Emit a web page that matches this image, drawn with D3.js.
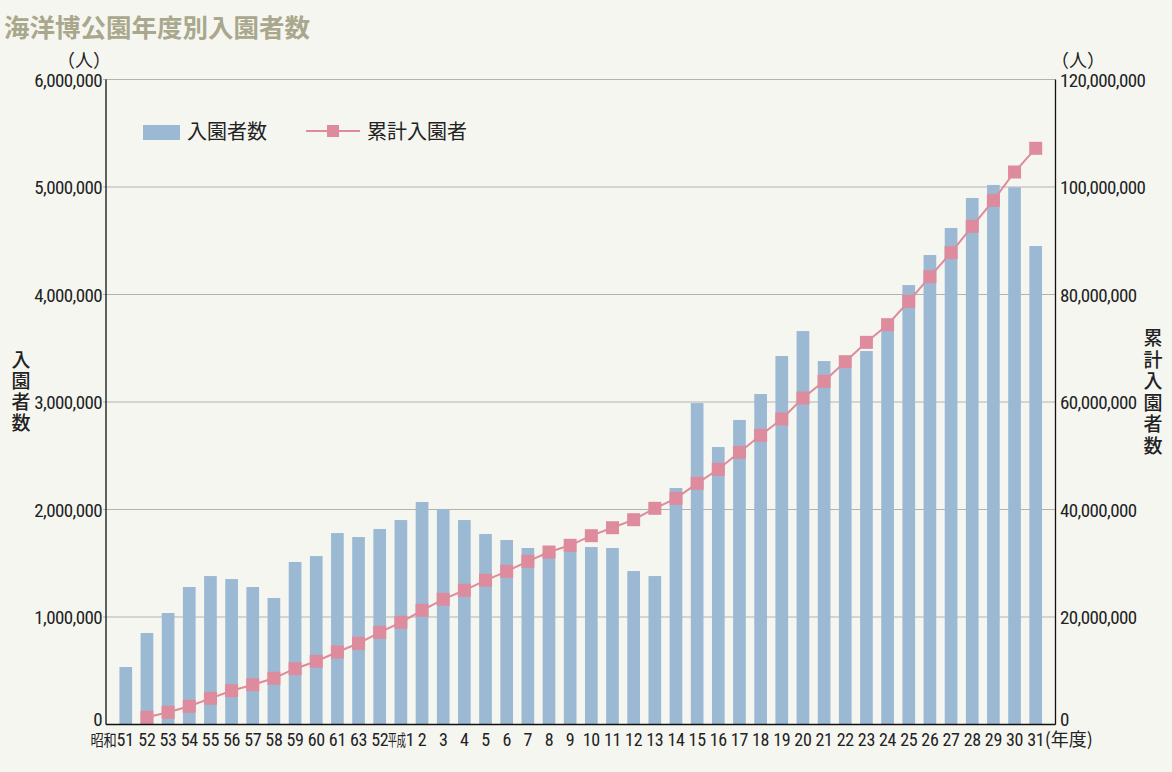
<!DOCTYPE html>
<html><head><meta charset="utf-8">
<script src="https://cdn.jsdelivr.net/npm/d3@7"></script>
<style>
html,body{margin:0;padding:0;background:#f6f6f1;}
svg{display:block;}
</style></head>
<body>
<svg id="chart" width="1172" height="772"></svg>
<script>
const categories = ["昭和51","52","53","54","55","56","57","58","59","60","61","63","52","平成1",
  "2","3","4","5","6","7","8","9","10","11","12","13","14","15","16","17","18","19","20",
  "21","22","23","24","25","26","27","28","29","30","31"];
const visitors = [535000,851000,1037000,1279000,1381000,1353000,1279000,1177000,1512000,1567000,
  1781000,1744000,1819000,1902000,2070000,2005000,1902000,1772000,1716000,1642000,1600000,1620000,
  1651000,1642000,1428000,1381000,2200000,2990000,2581000,2833000,3074000,3428000,3660000,3381000,
  3320000,3474000,3700000,4088000,4367000,4619000,4898000,5019000,4997000,4451000];
const cumulative = [null,1340000,2270000,3390000,4870000,6290000,7400000,8600000,10380000,11760000,
  13490000,15110000,17150000,19010000,21250000,23290000,24970000,26830000,28500000,30360000,32090000,
  33340000,35130000,36610000,38100000,40220000,42080000,44870000,47480000,50640000,53800000,56840000,
  60740000,63850000,67500000,71100000,74380000,78730000,83310000,87780000,92690000,97520000,
  102790000,107200000];
const leftTicks = [0,1000000,2000000,3000000,4000000,5000000,6000000];
const rightTicks = [0,20000000,40000000,60000000,80000000,100000000,120000000];
const title = "海洋博公園年度別入園者数";
const seriesNames = ["入園者数","累計入園者"];
const leftTitle = "入園者数";
const rightTitle = "累計入園者数";
const unitLabel = "（人）";
const xUnit = "(年度)";

const barColor = "#9cb9d4", lineColor = "#dd8b9d", textColor = "#222";
const numFont = "'Liberation Sans Narrow','Roboto Condensed','DejaVu Sans Condensed',sans-serif";
const jpFont = "'Noto Sans CJK JP',sans-serif";

const svg = d3.select("#chart");
const L = 106, R = 1055.5, T = 79.5, B = 724.5;

const x = d3.scaleBand().domain(d3.range(categories.length)).range([L, R])
  .paddingInner(0.4).paddingOuter(0.635);
const yL = d3.scaleLinear().domain([0, 6000000]).range([B, T]);
const yR = d3.scaleLinear().domain([0, 120000000]).range([B, T]);
const fmt = d3.format(",");

// title
svg.append("text").attr("x", 4).attr("y", 37).text(title)
  .attr("font-family", jpFont).attr("font-weight", "bold").attr("font-size", 25.5)
  .attr("fill", "#a9a78c");

// gridlines
svg.append("g").selectAll("line").data(leftTicks.filter(d => d > 0)).join("line")
  .attr("x1", L - 3).attr("x2", R).attr("y1", d => yL(d)).attr("y2", d => yL(d))
  .attr("stroke", "#b3b3ad").attr("stroke-width", 1.2);

// bars
svg.append("g").selectAll("rect").data(visitors).join("rect")
  .attr("x", (d, i) => x(i)).attr("width", x.bandwidth())
  .attr("y", d => yL(d)).attr("height", d => B - yL(d))
  .attr("fill", barColor);

// line
const pts = cumulative.map((v, i) => [i, v]).filter(p => p[1] != null);
svg.append("path").datum(pts)
  .attr("d", d3.line().x(p => x(p[0]) + x.bandwidth() / 2).y(p => yR(p[1])))
  .attr("fill", "none").attr("stroke", lineColor).attr("stroke-width", 2);
const sq = 13;
svg.append("g").selectAll("rect").data(pts).join("rect")
  .attr("x", p => x(p[0]) + x.bandwidth() / 2 - sq / 2).attr("y", p => yR(p[1]) - sq / 2)
  .attr("width", sq).attr("height", sq).attr("fill", lineColor);

// axes lines
svg.append("line").attr("x1", L).attr("x2", L).attr("y1", T).attr("y2", B).attr("stroke", "#111").attr("stroke-width", 1.3);
svg.append("line").attr("x1", R).attr("x2", R).attr("y1", T).attr("y2", B).attr("stroke", "#111").attr("stroke-width", 1.3);
svg.append("line").attr("x1", L).attr("x2", R).attr("y1", B).attr("y2", B).attr("stroke", "#111").attr("stroke-width", 1.3);

// tick labels
const tickY = (scale, d) => d === 0 ? scale(d) + 1 : scale(d) + 7;
svg.append("g").selectAll("text").data(leftTicks).join("text")
  .attr("x", 102).attr("y", d => tickY(yL, d)).attr("text-anchor", "end")
  .text(d => fmt(d)).attr("font-family", numFont).attr("font-size", 19).attr("fill", textColor)
  .attr("letter-spacing", -0.6);
svg.append("g").selectAll("text").data(rightTicks).join("text")
  .attr("x", 1060).attr("y", d => tickY(yR, d)).attr("text-anchor", "start")
  .text(d => fmt(d)).attr("font-family", numFont).attr("font-size", 19).attr("fill", textColor)
  .attr("letter-spacing", -0.6);

// units (full-width parens: ink sits inside the em boxes)
svg.append("text").attr("x", 57).attr("y", 67).attr("text-anchor", "start").text(unitLabel)
  .attr("font-family", jpFont).attr("font-size", 18).attr("fill", textColor);
svg.append("text").attr("x", 1051).attr("y", 67).attr("text-anchor", "start").text(unitLabel)
  .attr("font-family", jpFont).attr("font-size", 18).attr("fill", textColor);

// x labels
const xl = svg.append("g").attr("font-family", numFont).attr("font-size", 18).attr("fill", textColor)
  .attr("letter-spacing", -0.3);
categories.forEach((c, i) => {
  const cx = x(i) + x.bandwidth() / 2;
  const m = c.match(/^(\D+)(\d+)$/);
  if (m) {
    const t = xl.append("text").attr("y", 746).attr("text-anchor", "end");
    const pre = t.append("tspan").attr("font-family", jpFont).attr("font-size", 16).text(m[1]);
    t.append("tspan").text(m[2]);
    if (m[1] === "平成") {
      t.attr("x", cx + 13.5);
      pre.attr("textLength", 18).attr("lengthAdjust", "spacingAndGlyphs");
    } else {
      t.attr("x", cx + 8);
      pre.attr("textLength", 26).attr("lengthAdjust", "spacingAndGlyphs");
    }
  } else {
    xl.append("text").attr("x", cx).attr("y", 746).attr("text-anchor", "middle").text(c);
  }
});
xl.append("text").attr("x", x(categories.length - 1) + x.bandwidth() / 2 + 9).attr("y", 746)
  .attr("text-anchor", "start").attr("font-family", jpFont).attr("font-size", 18)
  .attr("letter-spacing", 0).text(xUnit);

// axis titles (vertical stacked)
const lt = svg.append("g").attr("font-family", jpFont).attr("font-size", 19).attr("font-weight", 500).attr("fill", textColor);
Array.from(leftTitle).forEach((ch, i) => {
  lt.append("text").attr("x", 21).attr("y", 367 + i * 21).attr("text-anchor", "middle").text(ch);
});
const rt = svg.append("g").attr("font-family", jpFont).attr("font-size", 19).attr("font-weight", 500).attr("fill", textColor);
Array.from(rightTitle).forEach((ch, i) => {
  rt.append("text").attr("x", 1153).attr("y", 345 + i * 21.5).attr("text-anchor", "middle").text(ch);
});

// legend
const lg = svg.append("g");
lg.append("rect").attr("x", 143).attr("y", 125).attr("width", 37).attr("height", 15).attr("fill", barColor);
lg.append("text").attr("x", 187).attr("y", 139).text(seriesNames[0])
  .attr("font-family", jpFont).attr("font-size", 20).attr("fill", textColor);
lg.append("line").attr("x1", 306).attr("x2", 360).attr("y1", 131).attr("y2", 131)
  .attr("stroke", lineColor).attr("stroke-width", 2);
lg.append("rect").attr("x", 327).attr("y", 125).attr("width", 12).attr("height", 12).attr("fill", lineColor);
lg.append("text").attr("x", 367).attr("y", 139).text(seriesNames[1])
  .attr("font-family", jpFont).attr("font-size", 20).attr("fill", textColor);
</script>
</body></html>
